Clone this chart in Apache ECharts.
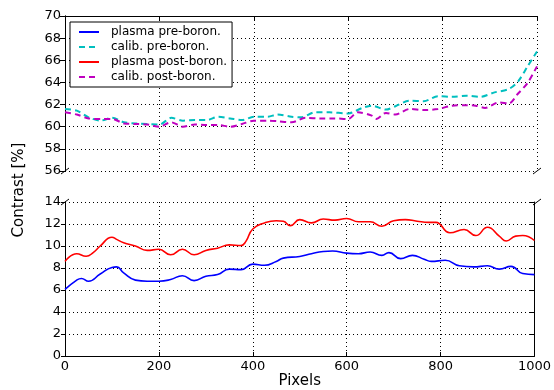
<!DOCTYPE html>
<html>
<head>
<meta charset="utf-8">
<script src="https://cdn.jsdelivr.net/npm/echarts@6/dist/echarts.min.js"></script>
<style>
html, body { margin: 0; padding: 0; background: #fff; }
#chart { width: 554px; height: 390px; }
</style>
</head>
<body>
<div id="chart"></div>
<script>
// plasma pre-boron (blue, lower panel)
var bluePx = [0, 25, 35, 50, 75, 100, 110, 125, 150, 175, 200, 225, 250, 275, 300, 325, 350, 375, 400, 425, 450, 465, 500, 525, 550, 570, 600, 625, 650, 675, 690, 715, 740, 765, 780, 810, 840, 870, 900, 925, 950, 975, 1000];
var blueVal = [6.05, 6.9, 7.05, 6.8, 7.45, 8.05, 8.1, 7.55, 6.9, 6.8, 6.8, 6.95, 7.3, 6.85, 7.25, 7.4, 7.9, 7.85, 8.35, 8.25, 8.6, 8.9, 9.05, 9.3, 9.5, 9.55, 9.35, 9.3, 9.45, 9.15, 9.4, 8.85, 9.15, 8.8, 8.6, 8.7, 8.2, 8.1, 8.2, 7.9, 8.15, 7.5, 7.4];

// plasma post-boron (red, lower panel)
var redPx = [0, 25, 45, 60, 75, 100, 110, 125, 150, 175, 200, 225, 250, 275, 300, 325, 350, 375, 385, 400, 425, 450, 465, 480, 500, 525, 550, 575, 600, 625, 650, 675, 700, 725, 750, 775, 790, 820, 850, 875, 900, 925, 940, 960, 975, 1000];
var redVal = [8.6, 9.3, 9.07, 9.4, 10.0, 10.8, 10.6, 10.3, 10.0, 9.6, 9.7, 9.2, 9.7, 9.2, 9.6, 9.8, 10.1, 10.05, 10.4, 11.55, 12.1, 12.3, 12.25, 11.85, 12.4, 12.1, 12.45, 12.35, 12.5, 12.2, 12.2, 11.8, 12.3, 12.4, 12.25, 12.15, 12.15, 11.2, 11.5, 10.95, 11.7, 10.9, 10.45, 10.9, 10.95, 10.5];

// calib. pre-boron (cyan, upper panel)
var cyanPx = [0, 25, 50, 75, 100, 125, 150, 200, 225, 250, 275, 300, 325, 350, 375, 400, 430, 450, 480, 500, 530, 560, 600, 630, 650, 680, 700, 730, 760, 790, 820, 850, 880, 910, 940, 960, 980, 1000];
var cyanVal = [61.6, 61.45, 60.85, 60.55, 60.8, 60.4, 60.3, 60.2, 60.8, 60.55, 60.6, 60.6, 60.9, 60.75, 60.6, 60.9, 60.9, 61.1, 60.9, 60.85, 61.3, 61.3, 61.2, 61.7, 61.9, 61.55, 61.85, 62.35, 62.3, 62.75, 62.7, 62.8, 62.7, 63.1, 63.4, 64.1, 65.45, 66.8];

// calib. post-boron (magenta, upper panel)
var magPx = [0, 25, 50, 75, 100, 125, 150, 175, 200, 225, 250, 275, 300, 325, 350, 375, 400, 430, 450, 480, 510, 540, 570, 600, 620, 650, 660, 680, 700, 730, 760, 790, 820, 850, 870, 890, 920, 940, 960, 980, 1000];
var magVal = [61.3, 61.1, 60.75, 60.7, 60.7, 60.3, 60.25, 60.2, 60.0, 60.4, 60.0, 60.2, 60.15, 60.15, 60.0, 60.25, 60.55, 60.55, 60.5, 60.4, 60.8, 60.75, 60.75, 60.7, 61.3, 61.0, 60.7, 61.25, 61.1, 61.6, 61.5, 61.6, 61.9, 61.95, 61.9, 61.7, 62.2, 62.1, 63.0, 63.95, 65.45];

var legendNames = ['plasma pre-boron.', 'calib. pre-boron.', 'plasma post-boron.', 'calib. post-boron.'];
var xTicks = [0, 1000, 200];
var topTicks = [56, 70, 2];
var bottomTicks = [0, 14, 2];

function pairs(xs, ys) {
    return xs.map(function (x, i) { return [x, ys[i]]; });
}

var FONT = 'DejaVu Sans';
var dotted = { show: true, lineStyle: { color: '#000', width: 1, type: [1, 3] } };
var spine = { show: true, lineStyle: { color: '#000', width: 1 } };
var noLabel = { show: false };

var chart = echarts.init(document.getElementById('chart'));

var option = {
    animation: false,
    backgroundColor: '#fff',
    textStyle: { fontFamily: FONT, color: '#000' },
    grid: [
        { left: 65, top: 16, width: 472, height: 155 },
        { left: 65, top: 202, width: 472, height: 155 }
    ],
    legend: {
        data: legendNames,
        orient: 'vertical',
        left: 70,
        top: 22,
        padding: [4, 5, 4, 8],
        icon: 'inherit',
        itemWidth: 20,
        itemHeight: 14,
        itemGap: 3,
        itemStyle: { opacity: 0 },
        borderColor: '#000',
        borderWidth: 1,
        borderRadius: 0,
        backgroundColor: '#fff',
        textStyle: { fontFamily: FONT, fontSize: 12, color: '#000', padding: [0, 0, 0, 7] }
    },
    xAxis: [
        // top panel: grid lines only
        { gridIndex: 0, type: 'value', min: xTicks[0], max: xTicks[1], interval: xTicks[2], position: 'bottom',
          axisLine: { show: false }, axisTick: { show: false }, axisLabel: noLabel, splitLine: dotted },
        // top panel: top spine
        { gridIndex: 0, type: 'value', min: xTicks[0], max: xTicks[1], interval: xTicks[2], position: 'top',
          axisLine: spine, axisTick: { show: true, inside: true, length: 4, lineStyle: { color: '#000' } },
          axisLabel: noLabel, splitLine: { show: false } },
        // bottom panel
        { gridIndex: 1, type: 'value', min: xTicks[0], max: xTicks[1], interval: xTicks[2], position: 'bottom',
          axisLine: spine, axisTick: { show: true, inside: true, length: 4, lineStyle: { color: '#000' } },
          axisLabel: { fontFamily: FONT, fontSize: 13, color: '#000', margin: 4,
                       formatter: function (v) { return String(v); } },
          splitLine: dotted,
          name: 'Pixels', nameLocation: 'middle', nameGap: 18,
          nameTextStyle: { fontFamily: FONT, fontSize: 15, color: '#000' } }
    ],
    yAxis: [
        { gridIndex: 0, type: 'value', min: topTicks[0], max: topTicks[1], interval: topTicks[2], position: 'left',
          axisLine: spine, axisTick: { show: true, inside: false, length: 4, lineStyle: { color: '#000' } },
          axisLabel: { fontFamily: FONT, fontSize: 13, color: '#000', margin: 4 },
          splitLine: dotted },
        { gridIndex: 0, type: 'value', min: topTicks[0], max: topTicks[1], interval: topTicks[2], position: 'right',
          axisLine: spine, axisTick: { show: true, inside: true, length: 5, lineStyle: { color: '#000' } },
          axisLabel: noLabel, splitLine: { show: false } },
        { gridIndex: 1, type: 'value', min: bottomTicks[0], max: bottomTicks[1], interval: bottomTicks[2], position: 'left',
          axisLine: spine, axisTick: { show: true, inside: false, length: 4, lineStyle: { color: '#000' } },
          axisLabel: { fontFamily: FONT, fontSize: 13, color: '#000', margin: 4 },
          splitLine: dotted },
        { gridIndex: 1, type: 'value', min: bottomTicks[0], max: bottomTicks[1], interval: bottomTicks[2], position: 'right',
          axisLine: spine, axisTick: { show: true, inside: true, length: 5, lineStyle: { color: '#000' } },
          axisLabel: noLabel, splitLine: { show: false } }
    ],
    series: [
        { name: legendNames[0], type: 'line', xAxisIndex: 2, yAxisIndex: 2, data: pairs(bluePx, blueVal),
          symbol: 'none', smooth: 0.5, color: '#0000ff', lineStyle: { color: '#0000ff', width: 1.6 } },
        { name: legendNames[1], type: 'line', xAxisIndex: 0, yAxisIndex: 0, data: pairs(cyanPx, cyanVal),
          symbol: 'none', smooth: 0.3, color: '#00bfbf', lineStyle: { color: '#00bfbf', width: 2, type: [6, 4] } },
        { name: legendNames[2], type: 'line', xAxisIndex: 2, yAxisIndex: 2, data: pairs(redPx, redVal),
          symbol: 'none', smooth: 0.5, color: '#ff0000', lineStyle: { color: '#ff0000', width: 1.6 } },
        { name: legendNames[3], type: 'line', xAxisIndex: 0, yAxisIndex: 0, data: pairs(magPx, magVal),
          symbol: 'none', smooth: 0.3, color: '#bf00bf', lineStyle: { color: '#bf00bf', width: 2, type: [6, 4] } }
    ],
    graphic: [
        { type: 'text', x: 19, y: 190, rotation: Math.PI / 2,
          style: { text: 'Contrast [%]', fontFamily: FONT, fontSize: 15, fill: '#000', align: 'center', verticalAlign: 'middle' },
          z: 10 },
        // broken-axis marks
        { type: 'line', shape: { x1: 61, y1: 174, x2: 69, y2: 168 }, style: { stroke: '#000', lineWidth: 1 } },
        { type: 'line', shape: { x1: 533, y1: 174, x2: 541, y2: 168 }, style: { stroke: '#000', lineWidth: 1 } },
        { type: 'line', shape: { x1: 61, y1: 205, x2: 69, y2: 199 }, style: { stroke: '#000', lineWidth: 1 } },
        { type: 'line', shape: { x1: 533, y1: 205, x2: 541, y2: 199 }, style: { stroke: '#000', lineWidth: 1 } }
    ]
};

chart.setOption(option);
</script>
</body>
</html>
